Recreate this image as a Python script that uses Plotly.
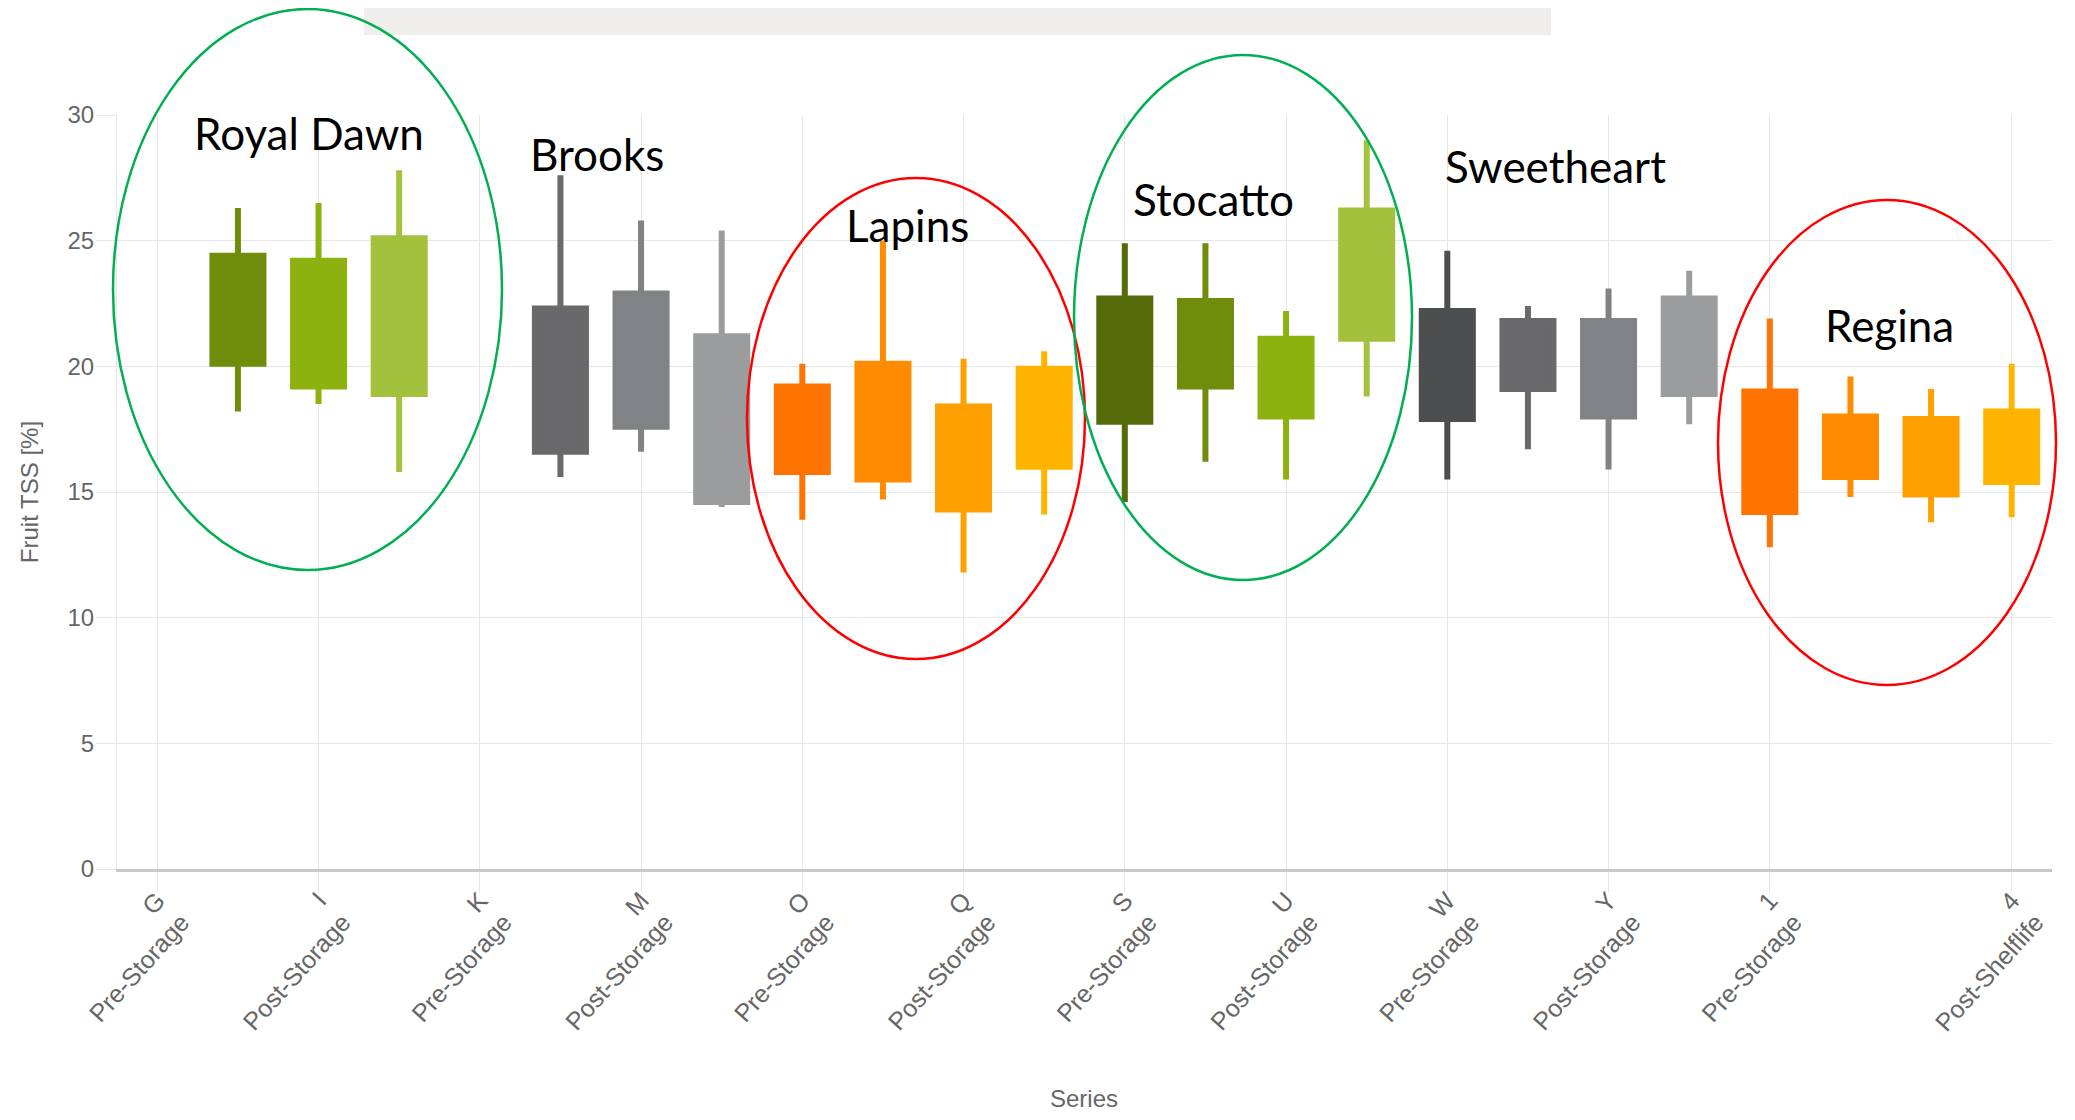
import plotly.graph_objects as go

# ---------------- data ----------------
categories = ["G", "H", "I", "J", "K", "L", "M", "N", "O", "P", "Q", "R",
              "S", "T", "U", "V", "W", "X", "Y", "Z", "1", "2", "3", "4"]

series_x = ["H", "I", "J", "L", "M", "N", "O", "P", "Q", "R",
            "S", "T", "U", "V", "W", "X", "Y", "Z", "1", "2", "3", "4"]
whisker_high = [26.3, 26.5, 27.8, 27.6, 25.8, 25.4, 20.1, 25.0, 20.3, 20.6,
                24.9, 24.9, 22.2, 29.0, 24.6, 22.4, 23.1, 23.8, 21.9, 19.6, 19.1, 20.1]
box_high = [24.4, 24.2, 25.1, 22.3, 22.9, 21.2, 19.2, 20.1, 18.4, 19.9,
            22.7, 22.6, 21.1, 26.2, 22.2, 21.8, 21.8, 22.7, 19.0, 18.0, 17.9, 18.2]
box_low = [20.1, 19.2, 18.9, 16.6, 17.6, 14.6, 15.8, 15.5, 14.3, 16.0,
           17.8, 19.2, 18.0, 21.1, 17.9, 19.1, 18.0, 18.9, 14.2, 15.6, 14.9, 15.4]
whisker_low = [18.2, 18.5, 15.8, 15.6, 16.6, 14.4, 13.9, 14.7, 11.8, 14.1,
               14.6, 16.2, 15.5, 18.8, 15.5, 16.7, 15.9, 17.7, 12.8, 14.8, 13.8, 14.0]
colors = ["#6f8c0a", "#8db20f", "#a3c13c",
          "#69696b", "#818285", "#9b9c9e",
          "#ff7300", "#ff8c00", "#ffa000", "#ffb400",
          "#556b0a", "#6f8c0a", "#8db20f", "#a3c13c",
          "#4d4e50", "#69696b", "#818285", "#9b9c9e",
          "#ff7300", "#ff8c00", "#ffa000", "#ffb400"]

tick_vals = ["G", "I", "K", "M", "O", "Q", "S", "U", "W", "Y", "1", "4"]
tick_text = ["G<br>Pre-Storage", "I<br>Post-Storage", "K<br>Pre-Storage",
             "M<br>Post-Storage", "O<br>Pre-Storage", "Q<br>Post-Storage",
             "S<br>Pre-Storage", "U<br>Post-Storage", "W<br>Pre-Storage",
             "Y<br>Post-Storage", "1<br>Pre-Storage", "4<br>Post-Shelflife"]

group_labels = ["Royal Dawn", "Brooks", "Lapins", "Stocatto", "Sweetheart", "Regina"]

# ---------------- figure ----------------
fig = go.Figure()
for i, cx in enumerate(series_x):
    c = colors[i]
    fig.add_trace(go.Candlestick(
        x=[cx], open=[box_low[i]], close=[box_high[i]],
        high=[whisker_high[i]], low=[whisker_low[i]],
        increasing=dict(fillcolor=c, line=dict(color=c, width=6)),
        decreasing=dict(fillcolor=c, line=dict(color=c, width=6)),
        whiskerwidth=0, showlegend=False, name=cx,
    ))

# page body has an 8px margin: figure coordinates are offset by 8px
OFF = 8
W, H = 2075 - 2 * OFF, 1120 - 2 * OFF
L, T = 117 - OFF, 115 - OFF
R = W - (2052 - OFF)
B = H - (869 - OFF)
pw, ph = W - L - R, H - T - B


def px2paper(x, y):
    # x, y given in page pixels
    x -= OFF
    y -= OFF
    return (x - L) / pw, (H - B - y) / ph


shapes = []
x0, y0 = px2paper(364, 0)
x1, y1 = px2paper(1551, 35)
shapes.append(dict(type="rect", xref="paper", yref="paper", x0=x0, x1=x1, y0=y1, y1=y0,
                   fillcolor="#efeeec", line=dict(width=0), layer="below"))

ellipses = [((113, 9, 502, 570), "#00b050"),
            ((747, 178, 1085, 659), "#ff0000"),
            ((1074, 55, 1412, 580), "#00b050"),
            ((1718, 200, 2056, 685), "#ff0000")]
for (ex0, ey0, ex1, ey1), col in ellipses:
    a0, b0 = px2paper(ex0, ey1)
    a1, b1 = px2paper(ex1, ey0)
    shapes.append(dict(type="circle", xref="paper", yref="paper",
                       x0=a0, x1=a1, y0=b0, y1=b1,
                       line=dict(color=col, width=2.5), fillcolor="rgba(0,0,0,0)"))

label_pos = [(309, 133), (597, 154), (907, 225), (1213, 199), (1555, 166), (1889, 325)]
annotations = []
for txt, (lx, ly) in zip(group_labels, label_pos):
    ax, ay = px2paper(lx, ly)
    annotations.append(dict(text=txt, x=ax, y=ay, xref="paper", yref="paper",
                            xanchor="center", yanchor="middle", showarrow=False,
                            font=dict(family="Lato", size=44, color="#000000")))

# x axis title "Series"
sx, sy = px2paper(1084, 1098)
annotations.append(dict(text="Series", x=sx, y=sy, xref="paper", yref="paper",
                        xanchor="center", yanchor="middle", showarrow=False,
                        font=dict(family="Liberation Sans, Arial, sans-serif",
                                  size=24, color="#666666")))

axis_font = dict(family="Liberation Sans, Arial, sans-serif", size=24, color="#666666")

fig.update_layout(
    width=W, height=H, autosize=False,
    margin=dict(l=L, r=R, t=T, b=B),
    paper_bgcolor="white", plot_bgcolor="white",
    shapes=shapes, annotations=annotations,
    showlegend=False,
    font=axis_font,
    boxgap=0.367, boxgroupgap=0,
)
fig.update_xaxes(
    type="category", categoryorder="array", categoryarray=categories,
    range=[-0.5, len(categories) - 0.5],
    rangeslider=dict(visible=False),
    automargin=False,
    tickmode="array", tickvals=tick_vals, ticktext=tick_text, tickangle=-48,
    tickfont=dict(family="Liberation Sans, Arial, sans-serif", size=25, color="#666666"),
    showgrid=True, gridcolor="#e6e6e6", gridwidth=1,
    ticks="outside", ticklen=20, tickcolor="#e6e6e6",
    ticklabelstandoff=-16,
    showline=True, linecolor="#c8c8c8", linewidth=3,
)
fig.update_yaxes(
    range=[0, 30], dtick=5, tick0=0,
    automargin=False,
    showgrid=True, gridcolor="#e6e6e6", gridwidth=1,
    zeroline=False,
    ticks="outside", ticklen=20, tickcolor="#e6e6e6",
    ticklabelstandoff=-3,
    showline=True, linecolor="#e6e6e6", linewidth=1,
    tickfont=dict(family="Liberation Sans, Arial, sans-serif", size=24, color="#666666"),
    title=dict(text="Fruit TSS [%]", font=dict(size=24, color="#666666"), standoff=22),
)

fig.write_html("out.html")
